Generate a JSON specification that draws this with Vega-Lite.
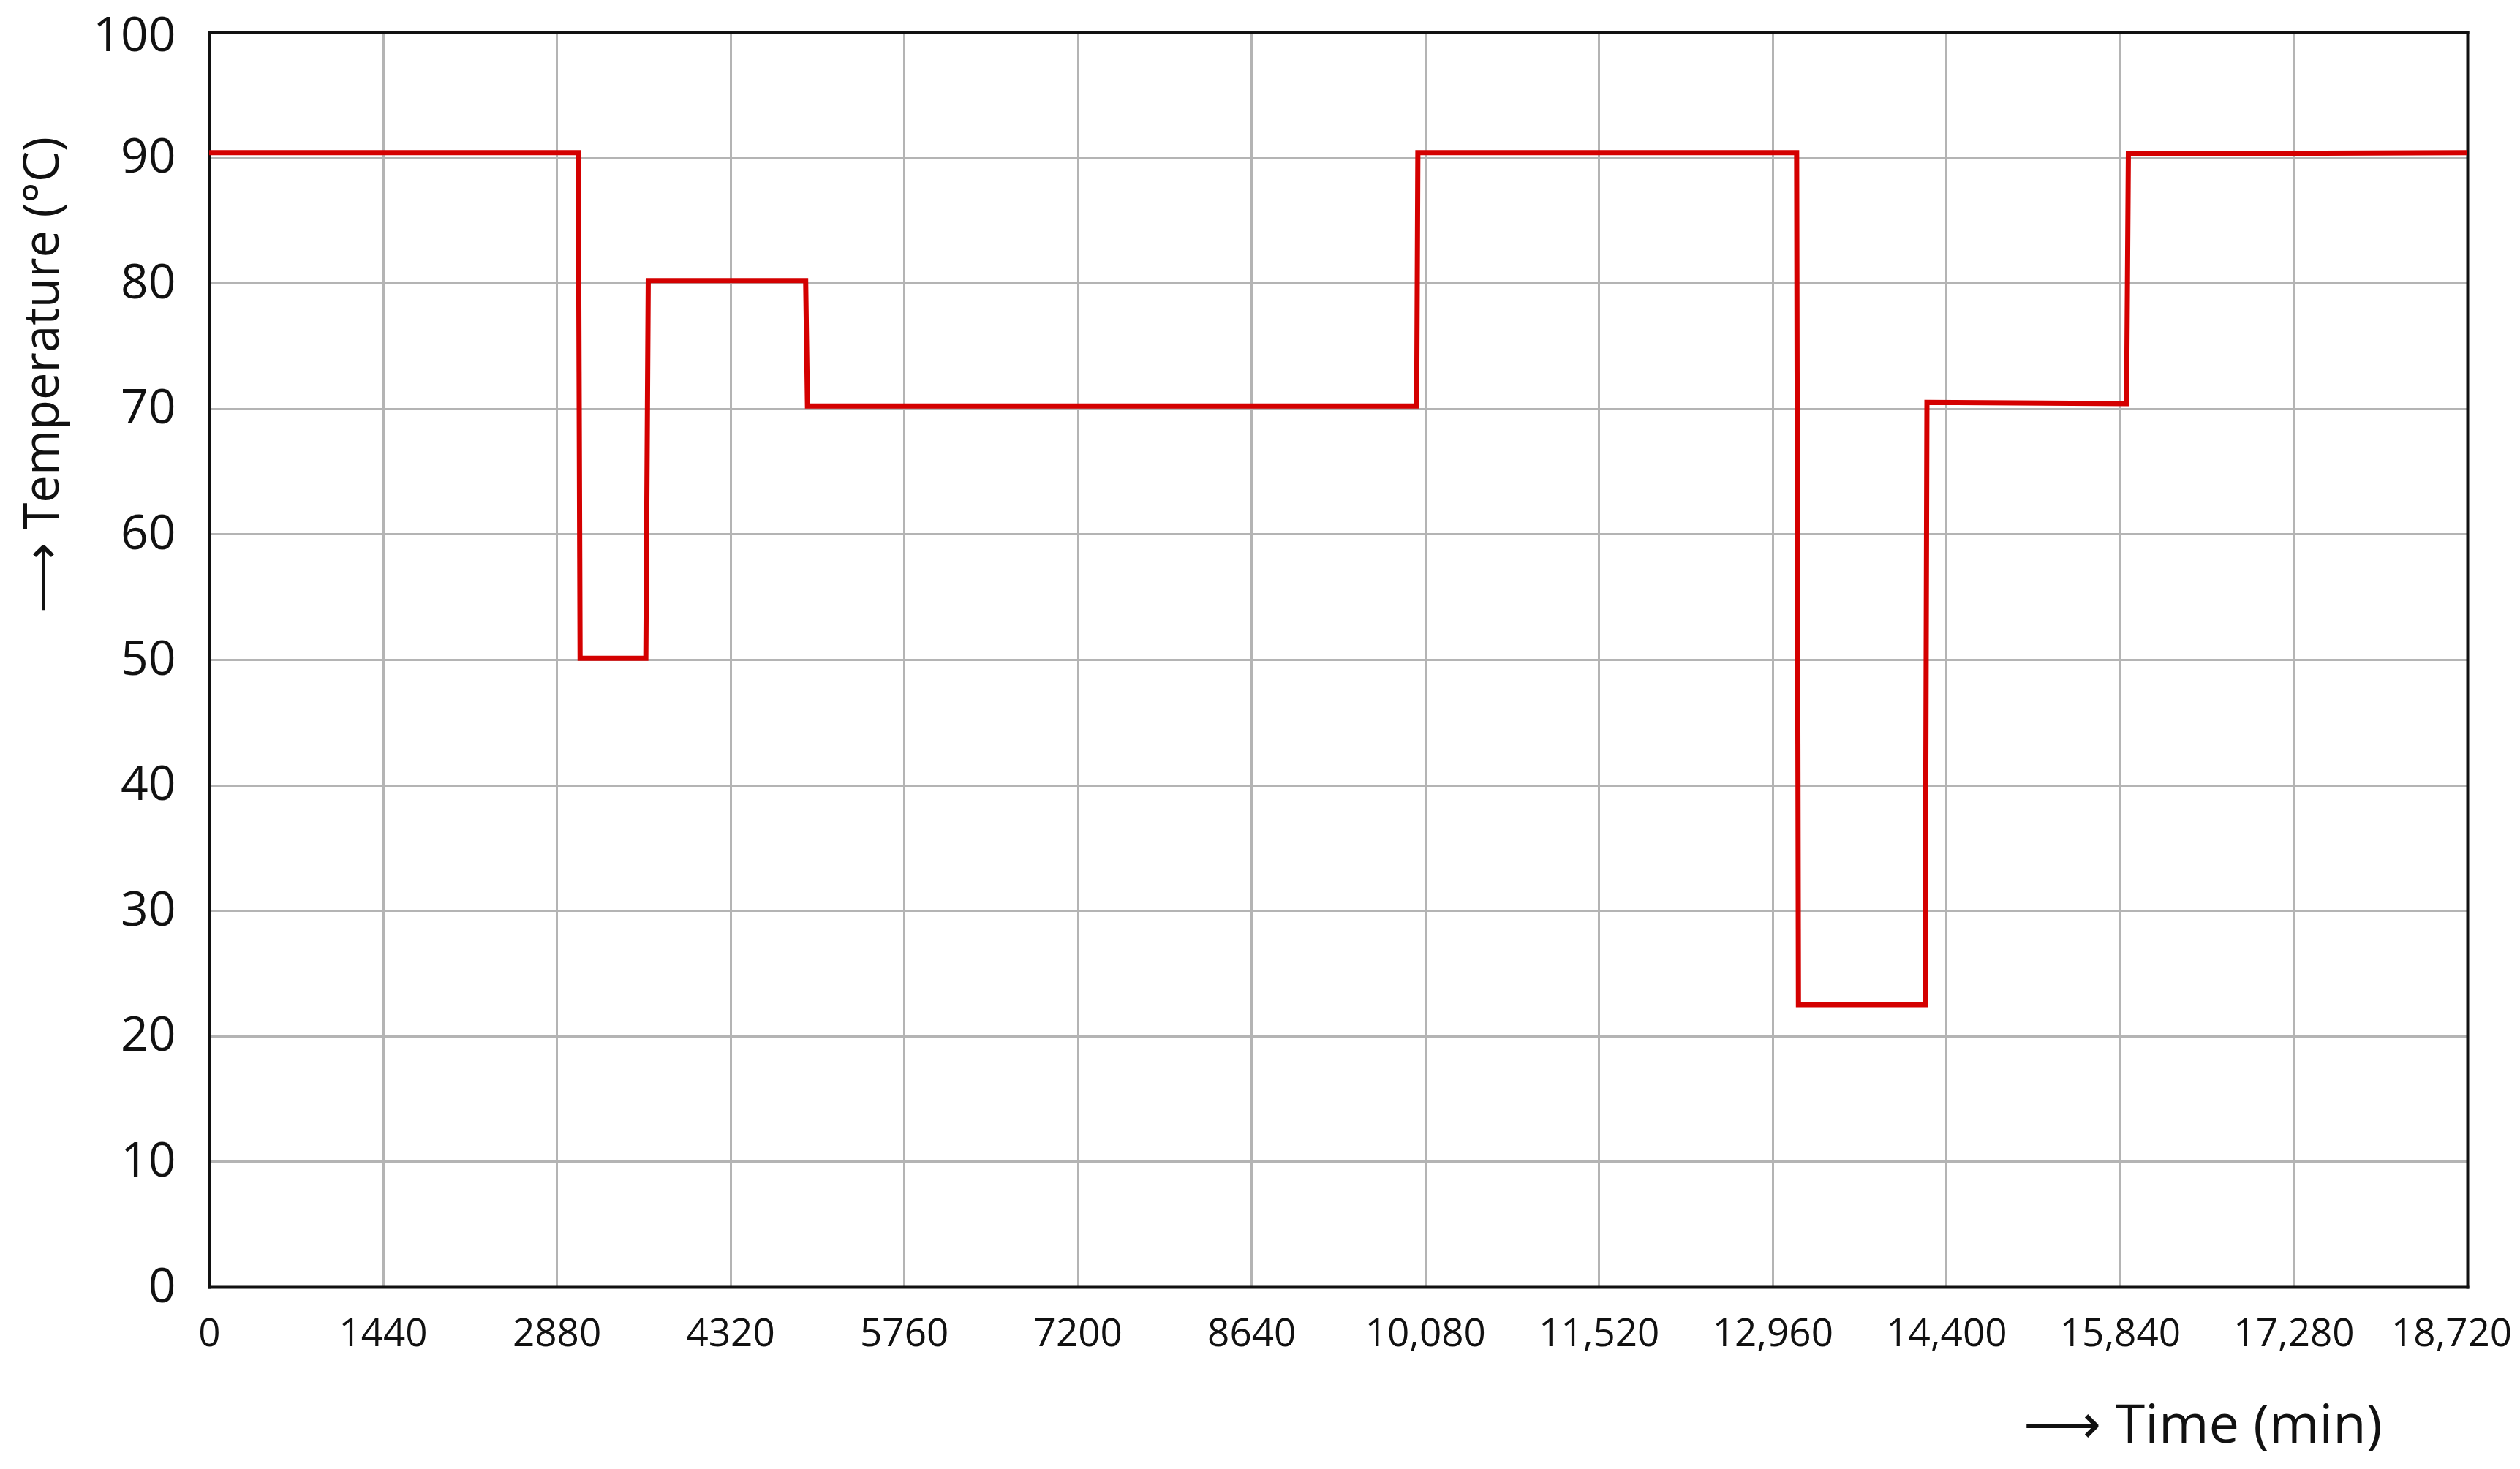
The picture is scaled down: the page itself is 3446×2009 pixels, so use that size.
{
  "$schema": "https://vega.github.io/schema/vega-lite/v6.json",
  "autosize": {"type": "none"},
  "width": 3088,
  "height": 1716,
  "padding": {"left": 286, "top": 44, "right": 72, "bottom": 249},
  "background": "white",
  "config": {
    "view": {"stroke": null},
    "axis": {
      "domainColor": "#111111",
      "domainWidth": 4,
      "domainCap": "square",
      "gridColor": "#b4b4b4",
      "gridWidth": 3,
      "ticks": false,
      "labelColor": "#111111",
      "titleColor": "#111111",
      "titleFontWeight": "normal",
      "labelLimit": 0
    }
  },
  "data": {
    "values": [
      {"time": 0, "temp": 90.4},
      {"time": 3060, "temp": 90.4},
      {"time": 3075, "temp": 50.1},
      {"time": 3620, "temp": 50.1},
      {"time": 3640, "temp": 80.2},
      {"time": 4945, "temp": 80.2},
      {"time": 4960, "temp": 70.2},
      {"time": 10010, "temp": 70.2},
      {"time": 10020, "temp": 90.4},
      {"time": 13160, "temp": 90.4},
      {"time": 13175, "temp": 22.5},
      {"time": 14225, "temp": 22.5},
      {"time": 14240, "temp": 70.5},
      {"time": 15895, "temp": 70.4},
      {"time": 15910, "temp": 90.3},
      {"time": 18720, "temp": 90.4}
    ]
  },
  "layer": [
    {
      "mark": {"type": "line", "color": "#d40000", "strokeWidth": 7, "strokeJoin": "miter"},
      "encoding": {
        "x": {
          "field": "time",
          "type": "quantitative",
          "scale": {"domain": [0, 18720], "nice": false, "zero": false},
          "axis": {
            "orient": "bottom",
            "grid": true,
            "values": [0, 1440, 2880, 4320, 5760, 7200, 8640, 10080, 11520, 12960, 14400, 15840, 17280, 18720],
            "labelExpr": "datum.value >= 10000 ? format(datum.value, ',') : format(datum.value, 'd')",
            "labelFlush": false,
            "labelOverlap": false,
            "labelOffset": {"condition": {"test": "datum.value == 18720", "value": -22}, "value": 0},
            "labelFont": "Open Sans",
            "labelFontSize": 53,
            "labelPadding": 38,
            "title": "⟶ Time (min)",
            "titleFont": "Open Sans",
            "titleFontSize": 74,
            "titleAlign": "right",
            "titleAnchor": null,
            "titleX": 2971,
            "titleY": 190,
            "titleBaseline": "middle"
          }
        },
        "y": {
          "field": "temp",
          "type": "quantitative",
          "scale": {"domain": [0, 100], "nice": false},
          "axis": {
            "orient": "left",
            "grid": true,
            "values": [0, 10, 20, 30, 40, 50, 60, 70, 80, 90, 100],
            "labelFont": "Open Sans",
            "labelFontSize": 66,
            "labelPadding": 46,
            "labelOffset": {"condition": {"test": "datum.value == 100", "value": 5}, "value": 0},
            "title": "⟶ Temperature (°C)",
            "titleFont": "Open Sans",
            "titleFontSize": 67,
            "titleAlign": "center",
            "titleAngle": -90,
            "titleX": -227,
            "titleY": 468,
            "titleBaseline": "middle"
          }
        }
      }
    },
    {
      "mark": {"type": "line", "strokeOpacity": 0},
      "encoding": {
        "x": {
          "field": "time",
          "type": "quantitative",
          "axis": {"orient": "top", "grid": false, "labels": false, "title": null, "values": [0, 18720]}
        },
        "y": {
          "field": "temp",
          "type": "quantitative",
          "axis": {"orient": "right", "grid": false, "labels": false, "title": null, "values": [0, 100]}
        }
      }
    }
  ],
  "resolve": {"axis": {"x": "independent", "y": "independent"}}
}
